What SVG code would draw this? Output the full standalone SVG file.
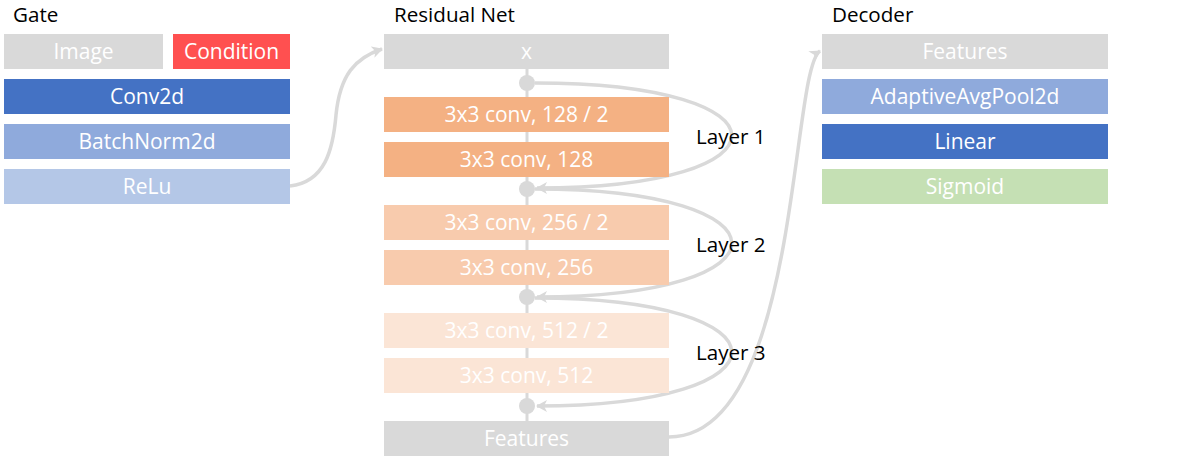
<svg xmlns="http://www.w3.org/2000/svg" width="1192" height="458" viewBox="0 0 1192 458">
<style>
.t{font-family:"Open Sans","Liberation Sans",sans-serif;font-size:20.6px;fill:#000}
.b{font-family:"Open Sans","Liberation Sans",sans-serif;font-size:21px;fill:#fff;text-anchor:middle}
.c{fill:none;stroke:#D9D9D9;stroke-width:3.5}
.gray{fill:#D9D9D9}.red{fill:#FF5050}.blue{fill:#4472C4}.lblue{fill:#8FAADC}.llblue{fill:#B4C7E7}
.o1{fill:#F4B183}.o2{fill:#F8CBAD}.o3{fill:#FBE5D6}.green{fill:#C5E0B4}
</style>
<defs>
<marker id="ah" markerWidth="12" markerHeight="12" refX="10" refY="6" orient="auto" markerUnits="userSpaceOnUse">
<path d="M0,0 L11,6 L0,12 L3,6 Z" fill="#D9D9D9"/>
</marker>
</defs>
<rect width="1192" height="458" fill="#fff"/>
<g id="titles">
<text class="t" x="13" y="22">Gate</text>
<text class="t" x="394" y="22">Residual Net</text>
<text class="t" x="832" y="22">Decoder</text>
</g>
<g id="connectors">
<line x1="527" y1="69" x2="527" y2="421" stroke="#D9D9D9" stroke-width="3"/>
<path class="c" d="M535,83 C797,83 797,188 537,188" marker-end="url(#ah)"/>
<path class="c" d="M535,189 C797,189 797,297 537,297" marker-end="url(#ah)"/>
<path class="c" d="M535,298 C797,298 797,406 537,406" marker-end="url(#ah)"/>
<path class="c" d="M290,186 C325,182 333,150 336,115 C340,75 355,58 382,49" marker-end="url(#ah)"/>
<path class="c" d="M669,437 C800,437 790,70 820,51" marker-end="url(#ah)"/>
</g>
<g id="gate">
<g id="image"><rect class="gray" x="4" y="34" width="159" height="35"/><text class="b" x="83.5" y="59">Image</text></g>
<g id="condition"><rect class="red" x="173" y="34" width="117" height="35"/><text class="b" x="231.5" y="59">Condition</text></g>
<g id="conv2d"><rect class="blue" x="4" y="79" width="286" height="35"/><text class="b" x="147" y="104">Conv2d</text></g>
<g id="batchnorm"><rect class="lblue" x="4" y="124" width="286" height="35"/><text class="b" x="147" y="149">BatchNorm2d</text></g>
<g id="relu"><rect class="llblue" x="4" y="169" width="286" height="35"/><text class="b" x="147" y="194">ReLu</text></g>
</g>
<g id="residual">
<g id="x"><rect class="gray" x="384" y="34" width="285" height="35"/><text class="b" x="526.5" y="59">x</text></g>
<g id="l1a"><rect class="o1" x="384" y="97" width="285" height="35"/><text class="b" x="526.5" y="122">3x3 conv, 128 / 2</text></g>
<g id="l1b"><rect class="o1" x="384" y="142" width="285" height="35"/><text class="b" x="526.5" y="167">3x3 conv, 128</text></g>
<g id="l2a"><rect class="o2" x="384" y="205" width="285" height="35"/><text class="b" x="526.5" y="230">3x3 conv, 256 / 2</text></g>
<g id="l2b"><rect class="o2" x="384" y="250" width="285" height="35"/><text class="b" x="526.5" y="275">3x3 conv, 256</text></g>
<g id="l3a"><rect class="o3" x="384" y="313" width="285" height="35"/><text class="b" x="526.5" y="338">3x3 conv, 512 / 2</text></g>
<g id="l3b"><rect class="o3" x="384" y="358" width="285" height="35"/><text class="b" x="526.5" y="383">3x3 conv, 512</text></g>
<g id="features"><rect class="gray" x="384" y="421" width="285" height="35"/><text class="b" x="526.5" y="446">Features</text></g>
<g id="nodes" fill="#D9D9D9">
<circle cx="527" cy="83" r="8"/><circle cx="527" cy="189" r="8"/><circle cx="527" cy="297" r="8"/><circle cx="527" cy="406" r="8"/>
</g>
<g id="layer-labels">
<text class="t" x="696" y="144">Layer 1</text>
<text class="t" x="696" y="252">Layer 2</text>
<text class="t" x="696" y="360">Layer 3</text>
</g>
</g>
<g id="decoder">
<g id="dfeatures"><rect class="gray" x="822" y="34" width="286" height="35"/><text class="b" x="965" y="59">Features</text></g>
<g id="pool"><rect class="lblue" x="822" y="79" width="286" height="35"/><text class="b" x="965" y="104">AdaptiveAvgPool2d</text></g>
<g id="linear"><rect class="blue" x="822" y="124" width="286" height="35"/><text class="b" x="965" y="149">Linear</text></g>
<g id="sigmoid"><rect class="green" x="822" y="169" width="286" height="35"/><text class="b" x="965" y="194">Sigmoid</text></g>
</g>
</svg>
